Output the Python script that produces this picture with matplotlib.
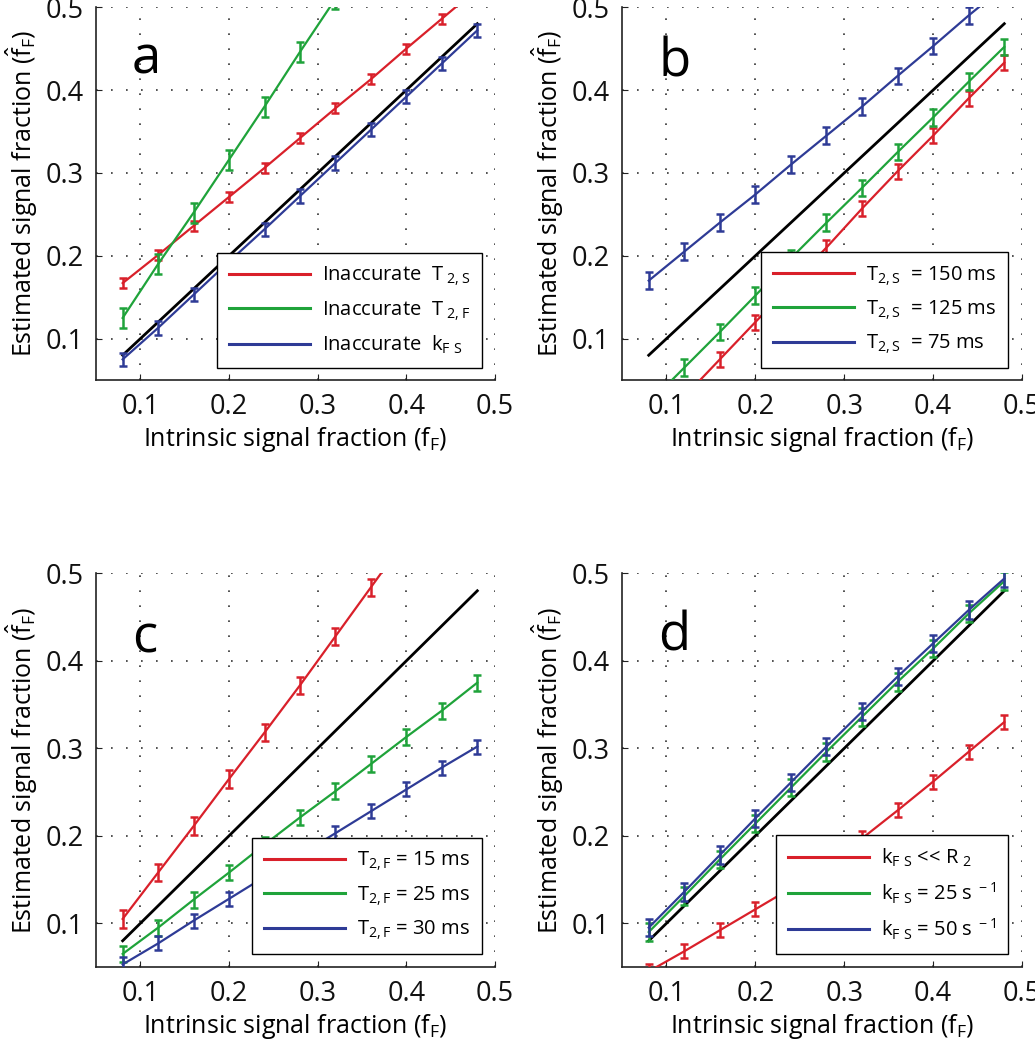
import matplotlib
matplotlib.use("Agg")
import matplotlib.pyplot as plt
import numpy as np

plt.rcParams['font.family'] = ['Open Sans', 'DejaVu Sans']
plt.rcParams['mathtext.fontset'] = 'custom'
plt.rcParams['mathtext.rm'] = 'Open Sans'
plt.rcParams['mathtext.it'] = 'Open Sans'

x = [0.08, 0.12, 0.16, 0.20, 0.24, 0.28, 0.32, 0.36, 0.40, 0.44, 0.48]
identity = x

# Panel a
a_red = [0.167, 0.201, 0.236, 0.271, 0.306, 0.342, 0.378, 0.413, 0.450, 0.486, 0.522]
a_green = [0.125, 0.190, 0.252, 0.316, 0.380, 0.446, 0.510, 0.575, 0.640, 0.705, 0.770]
a_blue = [0.075, 0.113, 0.153, 0.193, 0.232, 0.272, 0.312, 0.352, 0.392, 0.432, 0.472]
a_red_err = [0.006] * 11
a_green_err = [0.012] * 11
a_blue_err = [0.008] * 11
a_labels = [r'Inaccurate  T$_{\mathregular{\ 2,S}}$', r'Inaccurate  T$_{\mathregular{\ 2,F}}$',
            r'Inaccurate  k$_{\mathregular{F\ S}}$']

# Panel b
b_red = [-0.015, 0.030, 0.075, 0.120, 0.165, 0.210, 0.257, 0.302, 0.345, 0.390, 0.433]
b_green = [0.022, 0.065, 0.108, 0.152, 0.197, 0.240, 0.282, 0.325, 0.367, 0.410, 0.452]
b_blue = [0.170, 0.205, 0.240, 0.274, 0.310, 0.345, 0.380, 0.417, 0.453, 0.490, 0.525]
b_red_err = [0.009] * 11
b_green_err = [0.010] * 11
b_blue_err = [0.010] * 11
b_labels = [r'T$_{\mathregular{2,S}}$  = 150 ms', r'T$_{\mathregular{2,S}}$  = 125 ms',
            r'T$_{\mathregular{2,S}}$  = 75 ms']

# Panel c
c_red = [0.105, 0.158, 0.211, 0.265, 0.318, 0.372, 0.428, 0.484, 0.540, 0.596, 0.652]
c_green = [0.065, 0.095, 0.127, 0.158, 0.190, 0.221, 0.251, 0.282, 0.313, 0.343, 0.375]
c_blue = [0.053, 0.077, 0.103, 0.128, 0.153, 0.178, 0.203, 0.228, 0.253, 0.278, 0.302]
c_red_err = [0.010] * 11
c_green_err = [0.009] * 11
c_blue_err = [0.008] * 11
c_labels = [r'T$_{\mathregular{2,F}}$ = 15 ms', r'T$_{\mathregular{2,F}}$ = 25 ms',
            r'T$_{\mathregular{2,F}}$ = 30 ms']

# Panel d
d_red = [0.045, 0.068, 0.092, 0.116, 0.140, 0.166, 0.197, 0.229, 0.262, 0.296, 0.330]
d_green = [0.090, 0.131, 0.173, 0.214, 0.255, 0.296, 0.336, 0.376, 0.414, 0.454, 0.491]
d_blue = [0.095, 0.136, 0.178, 0.220, 0.261, 0.302, 0.342, 0.382, 0.420, 0.458, 0.494]
d_red_err = [0.008] * 11
d_green_err = [0.010] * 11
d_blue_err = [0.010] * 11
d_labels = [r'k$_{\mathregular{F\ S}}$ << R$_{\mathregular{\ 2}}$',
            r'k$_{\mathregular{F\ S}}$ = 25 s$^{\mathregular{\ -1}}$',
            r'k$_{\mathregular{F\ S}}$ = 50 s$^{\mathregular{\ -1}}$']

RED = '#d9202a'
GREEN = '#1fa33a'
BLUE = '#2e3b96'

fig = plt.figure(figsize=(10.35, 10.5), dpi=100)

panels = [
    ('a', [0.0928, 0.638, 0.3855, 0.3552], (a_red, a_green, a_blue), (a_red_err, a_green_err, a_blue_err), a_labels, (0.967, 0.032), 0.823),
    ('b', [0.601, 0.638, 0.3865, 0.3552], (b_red, b_green, b_blue), (b_red_err, b_green_err, b_blue_err), b_labels, (0.965, 0.032), 0.815),
    ('c', [0.0928, 0.079, 0.3855, 0.375], (c_red, c_green, c_blue), (c_red_err, c_green_err, c_blue_err), c_labels, (0.967, 0.033), 0.80),
    ('d', [0.601, 0.079, 0.3865, 0.375], (d_red, d_green, d_blue), (d_red_err, d_green_err, d_blue_err), d_labels, (0.965, 0.033), 0.805),
]

for letter, rect, ys, errs, labels, anchor, ly in panels:
    ax = fig.add_axes(rect)
    ax.plot(x, identity, color='black', lw=2.0, zorder=2)
    handles = []
    for yv, ev, col in zip(ys, errs, (RED, GREEN, BLUE)):
        h, = ax.plot(x, yv, color=col, lw=1.6, zorder=3)
        ax.errorbar(x, yv, yerr=ev, fmt='none', ecolor=col, elinewidth=1.8,
                    capsize=3, capthick=1.8, zorder=3)
        handles.append(h)
    ax.set_xlim(0.05, 0.5)
    ax.set_ylim(0.05, 0.5)
    ax.set_xticks([0.1, 0.2, 0.3, 0.4, 0.5])
    ax.set_yticks([0.1, 0.2, 0.3, 0.4, 0.5])
    ax.set_xticklabels(['0.1', '0.2', '0.3', '0.4', '0.5'])
    ax.set_yticklabels(['0.1', '0.2', '0.3', '0.4', '0.5'])
    ax.grid(True, linestyle=(0, (1, 8)), color='#333333', lw=1.2)
    for s in ('top', 'right'):
        ax.spines[s].set_visible(False)
    for s in ('left', 'bottom'):
        ax.spines[s].set_linewidth(1.2)
        ax.spines[s].set_color('#222222')
    ax.tick_params(direction='in', length=4, labelsize=19.5, pad=9, colors='#222222',
                   labelcolor='#111111')
    ax.set_xlabel(r'Intrinsic signal fraction (f$_{\mathregular{F}}$)', fontsize=18, labelpad=3)
    ax.set_ylabel(r'Estimated signal fraction ($\hat{\mathregular{f}}_{\mathregular{F}}$)', fontsize=18, labelpad=4)
    leg = ax.legend(handles, labels, loc='lower right', bbox_to_anchor=anchor,
                    borderaxespad=0.0,
                    fontsize=14.5, handlelength=4.0, handletextpad=0.6,
                    labelspacing=0.55, borderpad=0.6, fancybox=False,
                    framealpha=1, edgecolor='black')
    leg.get_frame().set_linewidth(1.0)
    for ln in leg.get_lines():
        ln.set_linewidth(2.2)
    ax.text(0.09, ly, letter, transform=ax.transAxes, fontsize=38,
            ha='left', va='baseline', color='black')

fig.savefig('out.png', dpi=100)
